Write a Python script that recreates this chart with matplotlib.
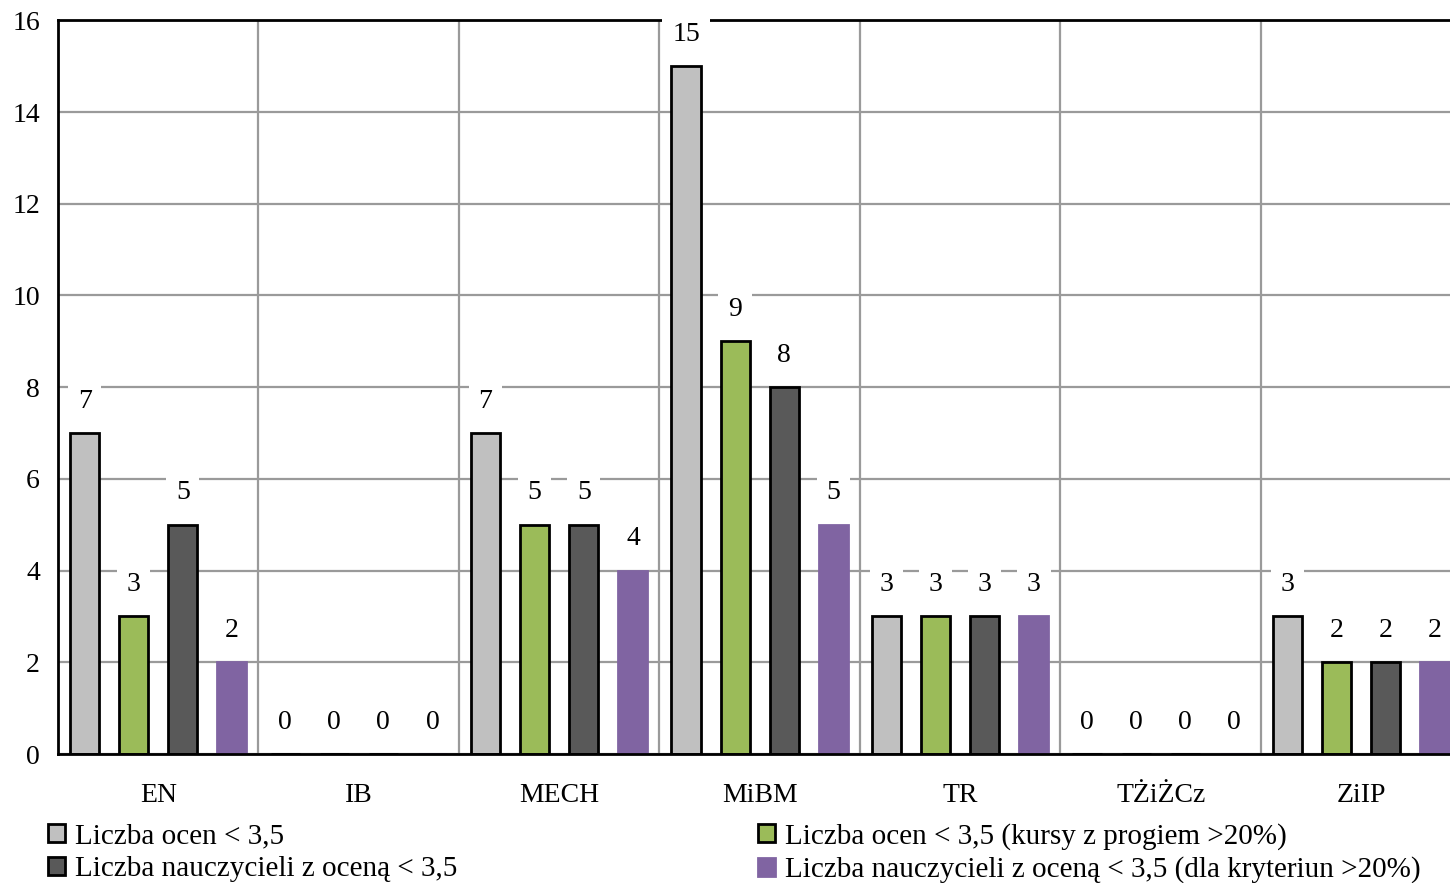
import matplotlib
matplotlib.use("Agg")
import matplotlib.pyplot as plt
import numpy as np

plt.rcParams['font.family'] = ['Liberation Serif', 'DejaVu Serif']

categories = ["EN", "IB", "MECH", "MiBM", "TR", "TŻiŻCz", "ZiIP"]
oceny = [7, 0, 7, 15, 3, 0, 3]
oceny_prog = [3, 0, 5, 9, 3, 0, 2]
nauczyciele = [5, 0, 5, 8, 3, 0, 2]
nauczyciele_prog = [2, 0, 4, 5, 3, 0, 2]

series = [
    ("Liczba ocen < 3,5", oceny, "#C0C0C0", "black"),
    ("Liczba ocen < 3,5 (kursy z progiem >20%)", oceny_prog, "#9BBB59", "black"),
    ("Liczba nauczycieli z oceną < 3,5", nauczyciele, "#595959", "black"),
    ("Liczba nauczycieli z oceną < 3,5 (dla kryteriun >20%)", nauczyciele_prog, "#8064A2", "#8064A2"),
]

fs = 20

fig = plt.figure(figsize=(14.5, 8.83), dpi=100)
ax = fig.add_axes([0.04, 0.146, 0.96, 0.831])

x = np.arange(len(categories)) + 0.5
step = 0.245
width = 0.145
handles = []
for i, (name, vals, color, edge) in enumerate(series):
    pos = x + (i - 1.5) * step
    b = ax.bar(pos, vals, width, color=color, edgecolor=edge, linewidth=2, label=name, zorder=2)
    handles.append(b)
    for px, v in zip(pos, vals):
        ax.annotate(str(v), (px, v), xytext=(0, 23), textcoords="offset points",
                    ha="center", va="center", fontsize=fs, zorder=5, annotation_clip=False,
                    bbox=dict(boxstyle="square,pad=0.35", fc="white", ec="none"))

ax.set_xlim(0, 6.943)
ax.set_ylim(0, 16)
ax.set_yticks(range(0, 17, 2))
ax.set_xticks(x)
ax.set_xticklabels(categories)
ax.set_xticks(np.arange(1, 7), minor=True)
ax.tick_params(axis="both", which="both", length=0, labelsize=fs)
ax.tick_params(axis="y", pad=13)
ax.tick_params(axis="x", pad=21)
ax.set_axisbelow(True)
ax.grid(axis="y", color="#9a9a9a", linewidth=1.6)
ax.grid(axis="x", which="minor", color="#9a9a9a", linewidth=1.6)
for s in ["left", "bottom", "top"]:
    ax.spines[s].set_linewidth(2)
    ax.spines[s].set_color("black")
ax.spines["right"].set_visible(False)

order = [handles[0], handles[2], handles[1], handles[3]]
fig.legend(order, [h.get_label() for h in order], loc="upper left",
           bbox_to_anchor=(0.033, 0.068), ncol=2, frameon=False, fontsize=21,
           handlelength=0.58, handleheight=0.58, handletextpad=0.36,
           labelspacing=0.22, columnspacing=10.3, borderpad=0, borderaxespad=0)

fig.savefig("out.png", dpi=100)
